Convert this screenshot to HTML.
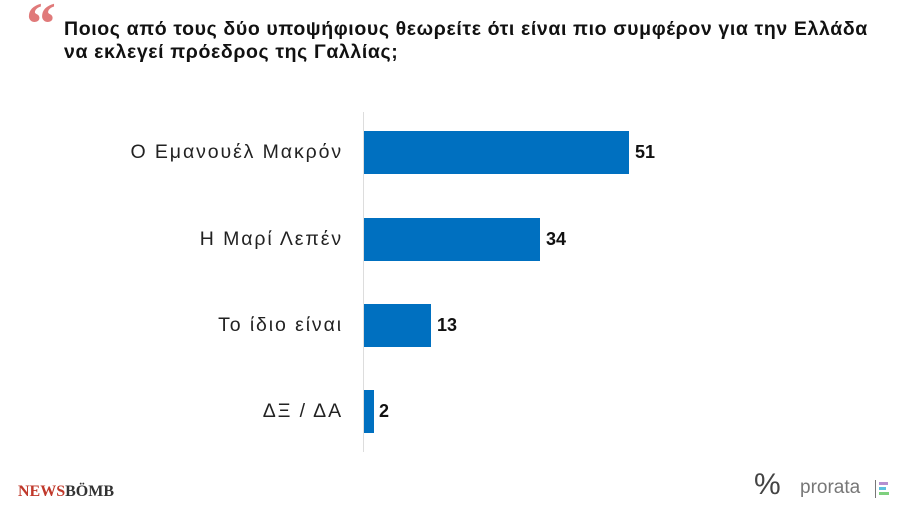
<!DOCTYPE html>
<html><head><meta charset="utf-8"><style>
body{margin:0;width:900px;height:506px;background:#fff;position:relative;overflow:hidden;font-family:"Liberation Sans","DejaVu Sans",sans-serif;}
.t{position:absolute;left:64px;top:18px;font-size:19.5px;font-weight:bold;color:#111;line-height:23px;letter-spacing:0.62px;white-space:nowrap}
.q{position:absolute;left:26px;top:-10px;font-size:60px;font-weight:bold;color:#e07a7a;font-family:"Liberation Serif",serif}
.l{position:absolute;right:557px;font-size:19.5px;color:#222;text-align:right;white-space:nowrap;letter-spacing:1.9px}
.b{position:absolute;left:364px;height:43px;background:#0070c0}
.v{position:absolute;font-size:18px;font-weight:bold;color:#111}
</style></head><body>
<div class="q">&ldquo;</div>
<div class="t">Ποιος από τους δύο υποψήφιους θεωρείτε ότι είναι πιο συμφέρον για την Ελλάδα<br>να εκλεγεί πρόεδρος της Γαλλίας;</div>
<div style="position:absolute;left:363px;top:112px;width:1px;height:340px;background:#ddd"></div>
<div class="l" style="top:141px">Ο Εμανουέλ Μακρόν</div>
<div class="b" style="top:131px;width:265px"></div><div class="v" style="left:635px;top:142px">51</div>
<div class="l" style="top:228px">Η Μαρί Λεπέν</div>
<div class="b" style="top:218px;width:176px"></div><div class="v" style="left:546px;top:229px">34</div>
<div class="l" style="top:314px">Το ίδιο είναι</div>
<div class="b" style="top:304px;width:67px"></div><div class="v" style="left:437px;top:315px">13</div>
<div class="l" style="top:400px">ΔΞ / ΔΑ</div>
<div class="b" style="top:390px;width:10px"></div><div class="v" style="left:379px;top:401px">2</div>
<div style="position:absolute;left:18px;top:483px;font-family:'Liberation Serif',serif;font-weight:bold;font-size:16px;color:#c0392b">NEWS<span style="color:#333">BÖMB</span></div>
<div style="position:absolute;left:754px;top:468px;font-size:30px;color:#444">%</div>
<div style="position:absolute;left:800px;top:477px;font-size:19px;color:#777">prorata</div>
<div style="position:absolute;left:875px;top:480px;width:1px;height:18px;background:#777"></div>
<div style="position:absolute;left:879px;top:482px;width:9px;height:3px;background:#b58fd0"></div>
<div style="position:absolute;left:879px;top:487px;width:7px;height:3px;background:#5bc0de"></div>
<div style="position:absolute;left:879px;top:492px;width:10px;height:3px;background:#7ed07e"></div>
</body></html>
